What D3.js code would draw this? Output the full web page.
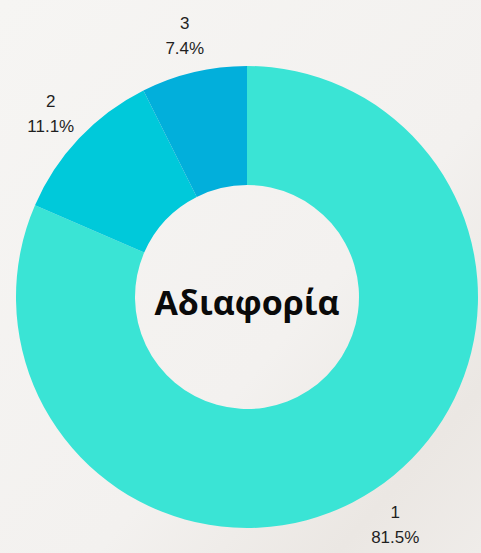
<!DOCTYPE html>
<html>
<head>
<meta charset="utf-8">
<script src="https://cdn.jsdelivr.net/npm/d3@7"></script>
<style>
  html, body { margin: 0; padding: 0; }
  body { width: 481px; height: 553px; overflow: hidden; }
</style>
</head>
<body>
<svg id="donut" width="481" height="553"></svg>
<script>
const categories = ['1', '2', '3']
const shares = [81.5, 11.1, 7.4]
const colors = ['#3ae4d5', '#00c9da', '#02afdb']
const title = 'Αδιαφορία'

const width = 481
const height = 553
const cx = 247
const cy = 297
const outerR = 231
const innerR = 112
const labelR = 270

const data = categories.map((c, i) => ({ name: c, value: shares[i] }))

const svg = d3.select('svg#donut')

// background with a soft diagonal shade toward the bottom right
const defs = svg.append('defs')
const bg = defs.append('linearGradient')
  .attr('id', 'bg')
  .attr('x1', '0').attr('y1', '0')
  .attr('x2', '1').attr('y2', '1')
bg.append('stop').attr('offset', '0%').attr('stop-color', '#f6f5f3')
bg.append('stop').attr('offset', '60%').attr('stop-color', '#f3f1ef')
bg.append('stop').attr('offset', '85%').attr('stop-color', '#ebe7e3')
bg.append('stop').attr('offset', '100%').attr('stop-color', '#efece9')

svg.append('rect')
  .attr('width', width)
  .attr('height', height)
  .attr('fill', 'url(#bg)')

const pie = d3.pie().value(d => d.value).sort(null)
const slices = pie(data)

const arc = d3.arc().innerRadius(innerR).outerRadius(outerR)
const labelArc = d3.arc().innerRadius(labelR).outerRadius(labelR)
const color = d3.scaleOrdinal().domain(categories).range(colors)

const chart = svg.append('g')
  .attr('transform', `translate(${cx}, ${cy})`)

chart.selectAll('path.slice')
  .data(slices)
  .enter()
    .append('path')
      .attr('class', 'slice')
      .attr('d', arc)
      .attr('fill', d => color(d.data.name))

const labels = chart.selectAll('text.label')
  .data(slices)
  .enter()
    .append('text')
      .attr('class', 'label')
      .attr('transform', d => `translate(${labelArc.centroid(d)})`)
      .attr('text-anchor', 'middle')
      .attr('font-family', '"Liberation Sans", Arial, sans-serif')
      .attr('font-size', 17)
      .attr('fill', '#1f1f1f')

labels.append('tspan')
  .attr('x', 0)
  .attr('y', -5)
  .text(d => d.data.name)

labels.append('tspan')
  .attr('x', 0)
  .attr('y', 20)
  .text(d => `${d.data.value.toFixed(1)}%`)

chart.append('text')
  .attr('x', 0)
  .attr('y', 18)
  .attr('text-anchor', 'middle')
  .attr('font-family', '"Open Sans", "Noto Sans", sans-serif')
  .attr('font-weight', 'bold')
  .attr('font-size', 34)
  .attr('fill', '#0a0a0a')
  .text(title)
</script>
</body>
</html>
